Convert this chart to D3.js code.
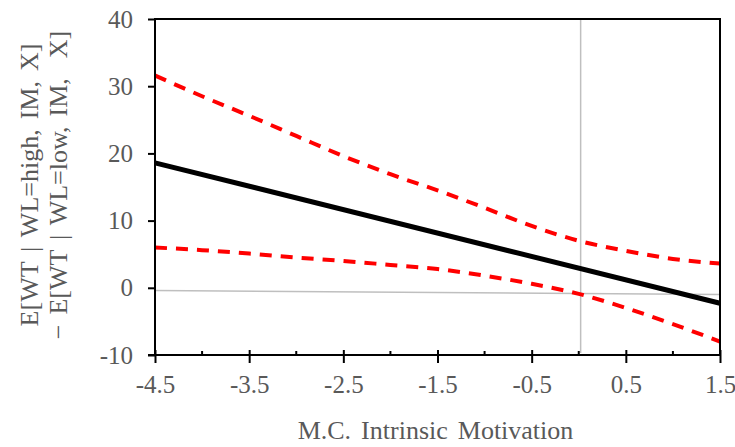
<!DOCTYPE html>
<html>
<head>
<meta charset="utf-8">
<script src="https://cdn.jsdelivr.net/npm/d3@7"></script>
<style>
  body { margin: 0; background: #fff; }
  text { font-family: "Liberation Serif", "Times New Roman", serif; fill: #595959; }
</style>
</head>
<body>
<div id="chart-area"></div>
<script>
// Data
var xValues = [-4.5, -4.0, -3.5, -3.0, -2.5, -2.0, -1.5, -1.0, -0.5, 0.0, 0.5, 1.0, 1.5];
var upperBand = [31.6, 28.5, 25.6, 22.6, 19.6, 16.9, 14.5, 11.9, 9.2, 7.0, 5.5, 4.3, 3.6];
var lowerBand = [6.0, 5.6, 5.1, 4.5, 4.0, 3.4, 2.8, 1.8, 0.6, -0.9, -3.0, -5.4, -8.0];
var effectX = [-4.5, 1.5];
var effectY = [18.6, -2.3];
var refHorizontal = [[-4.5, -0.4], [1.5, -1.0]];
var refVertical = [[0.02, 40], [0.02, -9.7]];
var xTicks = [-4.5, -3.5, -2.5, -1.5, -0.5, 0.5, 1.5];
var xMinorTicks = [-4.0, -3.0, -2.0, -1.0, 0.0, 1.0];
var yTicks = [-10, 0, 10, 20, 30, 40];

var margin = { left: 155, right: 15, top: 19, bottom: 92 };
var W = 735, H = 447;
var width = W - margin.left - margin.right;
var height = H - margin.top - margin.bottom;

var svg = d3.select("#chart-area").append("svg")
    .attr("width", W)
    .attr("height", H);
var g = svg.append("g")
    .attr("transform", "translate(" + margin.left + "," + margin.top + ")");

var x = d3.scaleLinear().domain([-4.5, 1.5]).range([0, width]);
var y = d3.scaleLinear().domain([-10, 40]).range([height, 0]);

// excel style labels use a plain hyphen
function hyphen(fmt) {
    return function(d) { return fmt(d).replace("\u2212", "-"); };
}

// reference lines (grey)
var straight = d3.line()
    .x(function(d) { return x(d[0]); })
    .y(function(d) { return y(d[1]); });

g.append("path")
    .attr("d", straight(refHorizontal))
    .attr("fill", "none")
    .attr("stroke", "#bfbfbf")
    .attr("stroke-width", 1.5);
g.append("path")
    .attr("d", straight(refVertical))
    .attr("fill", "none")
    .attr("stroke", "#bfbfbf")
    .attr("stroke-width", 1.5);

// confidence bands
var band = d3.line()
    .x(function(d) { return x(d[0]); })
    .y(function(d) { return y(d[1]); })
    .curve(d3.curveMonotoneX);

[upperBand, lowerBand].forEach(function(vals) {
    g.append("path")
        .attr("d", band(xValues.map(function(v, i) { return [v, vals[i]]; })))
        .attr("fill", "none")
        .attr("stroke", "#ff0000")
        .attr("stroke-width", 4)
        .attr("stroke-dasharray", "12,9");
});

// marginal effect line
g.append("path")
    .attr("d", straight(effectX.map(function(v, i) { return [v, effectY[i]]; })))
    .attr("fill", "none")
    .attr("stroke", "#000")
    .attr("stroke-width", 5);

// frame
g.append("rect")
    .attr("x", 0).attr("y", 0)
    .attr("width", width).attr("height", height)
    .attr("fill", "none")
    .attr("stroke", "#000")
    .attr("stroke-width", 2);

// y axis
var yAxis = g.append("g")
    .call(d3.axisLeft(y).tickValues(yTicks).tickSize(7).tickPadding(15).tickFormat(hyphen(d3.format("d"))));
yAxis.select(".domain").remove();
yAxis.selectAll("line").attr("stroke", "#000").attr("stroke-width", 2);
yAxis.selectAll("text").attr("font-size", 25).style("font-family", "Liberation Serif").attr("fill", "#595959");

// x axis
var xAxis = g.append("g")
    .attr("transform", "translate(0," + height + ")")
    .call(d3.axisBottom(x).tickValues(xTicks).tickSize(8).tickPadding(12).tickFormat(hyphen(d3.format(".1f"))));
xAxis.select(".domain").remove();
xAxis.selectAll("line").attr("stroke", "#000").attr("stroke-width", 2).attr("y1", -5);
xAxis.selectAll("text").attr("font-size", 25).style("font-family", "Liberation Serif").attr("fill", "#595959");

g.selectAll(".minor-tick")
    .data(xMinorTicks)
    .enter().append("line")
    .attr("class", "minor-tick")
    .attr("x1", function(d) { return x(d); })
    .attr("x2", function(d) { return x(d); })
    .attr("y1", height - 4)
    .attr("y2", height)
    .attr("stroke", "#000")
    .attr("stroke-width", 2);

// left extension of the bottom axis
g.append("line")
    .attr("x1", -7).attr("x2", 0)
    .attr("y1", height).attr("y2", height)
    .attr("stroke", "#000").attr("stroke-width", 2);

// axis titles
svg.append("text")
    .attr("x", margin.left + width / 2 - 2)
    .attr("y", 439)
    .attr("text-anchor", "middle")
    .attr("font-size", 26)
    .attr("word-spacing", "3.5px")
    .text("M.C. Intrinsic Motivation");

var yTitle = svg.append("text")
    .attr("transform", "translate(0,185) rotate(-90)")
    .attr("text-anchor", "middle")
    .attr("font-size", 26)
    .attr("word-spacing", "3.5px");
yTitle.append("tspan").attr("x", 0).attr("y", 38).text("E[WT | WL=high, IM, X]");
yTitle.append("tspan").attr("x", 0).attr("y", 67).attr("xml:space", "preserve").text("\u2212 E[WT | WL=low, IM,  X]");
</script>
</body>
</html>
